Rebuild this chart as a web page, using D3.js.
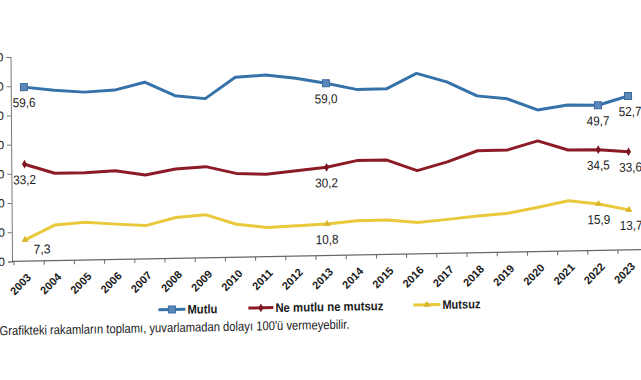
<!DOCTYPE html>
<html>
<head>
<meta charset="utf-8">
<script src="https://cdn.jsdelivr.net/npm/d3@7"></script>
<style>
  html, body { margin: 0; padding: 0; background: #fff; }
  svg { display: block; font-family: "Liberation Sans", Arial, sans-serif; }
</style>
</head>
<body>
<svg id="chart" width="641" height="380"></svg>
<script>
// ---- data ----
const years = ["2003","2004","2005","2006","2007","2008","2009","2010","2011","2012","2013",
               "2014","2015","2016","2017","2018","2019","2020","2021","2022","2023"];
const mutlu   = [59.6, 58.3, 57.5, 58.0, 60.5, 55.7, 54.5, 61.6, 62.2, 60.9, 59.0,
                 56.7, 56.7, 61.8, 58.7, 53.7, 52.5, 48.5, 50.0, 49.7, 52.7];
const neMutlu = [33.2, 29.9, 29.9, 30.4, 28.7, 30.6, 31.2, 28.7, 28.2, 29.2, 30.2,
                 32.3, 32.3, 28.5, 31.3, 34.9, 35.0, 37.9, 34.6, 34.5, 33.6];
const mutsuz  = [7.3, 12.2, 12.9, 12.1, 11.4, 14.0, 14.7, 11.3, 10.0, 10.4, 10.8,
                 11.7, 11.8, 10.7, 11.6, 12.6, 13.3, 15.2, 17.2, 15.9, 13.7];
const seriesNames = ["Mutlu", "Ne mutlu ne mutsuz", "Mutsuz"];
const labelledIdx = [0, 10, 19, 20];
const yTicks = [0, 10, 20, 30, 40, 50, 60, 70];
const footnote = "Grafikteki rakamların toplamı, yuvarlamadan dolayı 100'ü vermeyebilir.";

const fmt = v => d3.format(".1f")(v).replace(".", ",");

// ---- layout ----
const svg = d3.select("#chart");
svg.append("rect").attr("width", 641).attr("height", 380).attr("fill", "#fff");

// the reference is a slightly skewed scan: apply the same small affine tilt
const g = svg.append("g").attr("transform", "matrix(1,-0.0187,0.0074,1,-1.93,0.224)");

const axisX = 12;
const x = d3.scalePoint().domain(years).range([25.2, 629.2]);
const y = d3.scaleLinear().domain([0, 70]).range([261.4, 57]);

const colors = ["#3672aa", "#8c1b26", "#e9c93c"];
const data = [mutlu, neMutlu, mutsuz];

// y axis
const yAxis = g.append("g").attr("transform", `translate(${axisX},0)`)
  .call(d3.axisLeft(y).tickValues(yTicks).tickSize(4).tickPadding(3).tickFormat(d3.format("d")));
yAxis.select(".domain").attr("stroke", "#777");
yAxis.selectAll(".tick line").attr("stroke", "#777");
yAxis.selectAll(".tick text").attr("font-size", 12).attr("fill", "#222")
  .attr("font-family", "'Liberation Sans', Arial, sans-serif");

// x axis (ticks sit between categories, slightly left of the midpoint as in the reference)
const xAxis = g.append("g").attr("transform", `translate(0,${y(0)})`)
  .call(d3.axisBottom(x).tickSize(4).tickFormat(""));
xAxis.select(".domain").remove();
xAxis.selectAll(".tick").attr("transform", d => `translate(${x(d) - 11.2},0)`);
xAxis.selectAll(".tick line").attr("stroke", "#666");
xAxis.append("line").attr("x1", axisX).attr("x2", 660).attr("y1", 0).attr("y2", 0)
  .attr("stroke", "#666").attr("stroke-width", 1.2);

// x tick labels, rotated
g.append("g").selectAll("text").data(years).join("text")
  .attr("transform", d => `translate(${x(d) + 6.5},${y(0) + 17}) rotate(-45)`)
  .attr("text-anchor", "end")
  .attr("font-size", 11).attr("font-weight", "bold").attr("fill", "#1a1a1a")
  .text(d => d);

// lines
const line = d3.line().x((d, i) => x(years[i])).y(d => y(d));
data.forEach((arr, si) => {
  g.append("path").datum(arr)
    .attr("d", line)
    .attr("fill", "none")
    .attr("stroke", colors[si])
    .attr("stroke-width", 3)
    .attr("stroke-linejoin", "round")
    .attr("stroke-linecap", "round");
});

// markers
function marker(sel, si, cx, cy) {
  if (si === 0) {
    sel.append("rect").attr("x", cx - 3.5).attr("y", cy - 3.5).attr("width", 7).attr("height", 7)
      .attr("fill", "#5b87bb").attr("stroke", "#3a6a9e").attr("stroke-width", 1);
  } else if (si === 1) {
    sel.append("path").attr("d", d3.symbol(d3.symbolDiamond, 22)())
      .attr("transform", `translate(${cx},${cy})`).attr("fill", "#7a1520");
  } else {
    sel.append("path").attr("d", d3.symbol(d3.symbolTriangle, 22)())
      .attr("transform", `translate(${cx},${cy})`).attr("fill", "#d9b62c");
  }
}
data.forEach((arr, si) => {
  labelledIdx.forEach(i => marker(g, si, x(years[i]), y(arr[i])));
});

// data labels
data.forEach((arr, si) => {
  labelledIdx.forEach(i => {
    let dx = 0, dy = 20;
    if (si === 2 && i === 0) { dx = 17; dy = 14; }
    if (i === 20) dx = 2;
    const s = fmt(arr[i]);
    g.append("text")
      .attr("x", x(years[i]) + dx).attr("y", y(arr[i]) + dy)
      .attr("text-anchor", "middle")
      .attr("font-size", 13).attr("fill", "#1a1a1a")
      .attr("textLength", s.length * 5.7).attr("lengthAdjust", "spacingAndGlyphs")
      .text(s);
  });
});

// legend
const legendItems = [
  { x1: 158, x2: 185, tx: 187, tw: 30 },
  { x1: 248, x2: 273, tx: 275, tw: 108 },
  { x1: 413, x2: 440, tx: 442, tw: 38 }
];
const ly = 312.5;
legendItems.forEach((it, si) => {
  g.append("line").attr("x1", it.x1).attr("x2", it.x2).attr("y1", ly).attr("y2", ly)
    .attr("stroke", colors[si]).attr("stroke-width", 3);
  marker(g, si, (it.x1 + it.x2) / 2, ly);
  g.append("text").attr("x", it.tx).attr("y", ly + 4.5)
    .attr("font-size", 12.5).attr("font-weight", "bold").attr("fill", "#1a1a1a")
    .attr("textLength", it.tw).attr("lengthAdjust", "spacingAndGlyphs")
    .text(seriesNames[si]);
});

// footnote
g.append("text").attr("x", -1).attr("y", 335)
  .attr("font-size", 13).attr("fill", "#222")
  .attr("textLength", 350).attr("lengthAdjust", "spacingAndGlyphs")
  .text(footnote);
</script>
</body>
</html>
